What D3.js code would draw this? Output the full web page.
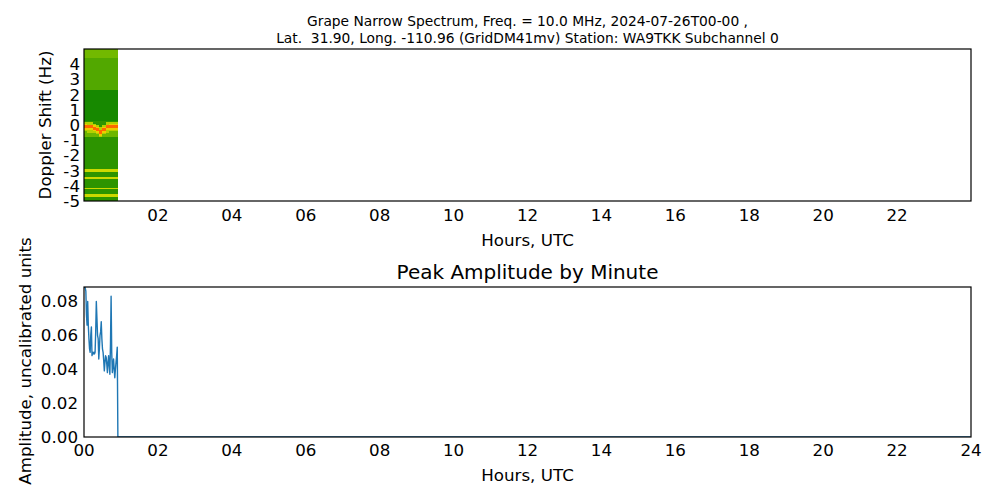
<!DOCTYPE html>
<html><head><meta charset="utf-8">
<script src="https://cdn.jsdelivr.net/npm/d3@7"></script>
<style>body{margin:0;background:#fff}svg{display:block;font-family:"DejaVu Sans",sans-serif}text{white-space:pre}</style>
</head><body><svg id="c" width="1000" height="500"></svg>
<script>
// ---------- data ----------
const titleLines = ["Grape Narrow Spectrum, Freq. = 10.0 MHz, 2024-07-26T00-00 ,",
                    "Lat.  31.90, Long. -110.96 (GridDM41mv) Station: WA9TKK Subchannel 0"];
const hourTicks = [2,4,6,8,10,12,14,16,18,20,22];
const hourTickLabels = ["02","04","06","08","10","12","14","16","18","20","22"];
const hourTicksBottom = [0,2,4,6,8,10,12,14,16,18,20,22,24];
const hourTickLabelsBottom = ["00","02","04","06","08","10","12","14","16","18","20","22","24"];
const dopplerTicks = [-5,-4,-3,-2,-1,0,1,2,3,4];
const ampTicks = [0,0.02,0.04,0.06,0.08];

// spectrogram: recorded minutes, background band levels, carrier trace, spur lines
const specMinutes = 55;
const bandLow   = [-5.0, -0.75, 0.3, 2.3, 4.4];
const bandHigh  = [-0.75, -0.3, 2.3, 4.4, 5.0];
const bandLevel = [0.30, 0.42, 0.26, 0.37, 0.43];
const carrierMinute = [0,5,10,15,20,25,30,35,40,45,50];
const carrierHz     = [-0.1,-0.15,-0.15,-0.2,-0.3,-0.45,-0.3,-0.15,-0.1,-0.1,-0.1];
const spurHz = [-3.0,-3.45,-4.15,-4.6];
const spurLevel = 0.58;

// peak amplitude by minute
const ampMinute = [0,1,2,3,4,5,6,7,8,9,10,11,12,13,14,15,16,17,18,19,20,21,22,23,24,25,26,27,28,29,30,31,32,33,34,35,36,37,38,39,40,41,42,43,44,45,46,47,48,49,50,51,52,53,54,55,1439];
const ampValue  = [0.088,0.089,0.088,0.086,0.072,0.066,0.080,0.066,0.058,0.052,0.050,0.060,0.065,0.048,0.050,0.049,0.050,0.049,0.050,0.062,0.080,0.070,0.060,0.058,0.046,0.052,0.060,0.062,0.068,0.058,0.052,0.050,0.045,0.039,0.044,0.048,0.047,0.043,0.038,0.044,0.048,0.042,0.037,0.055,0.083,0.050,0.038,0.042,0.046,0.040,0.035,0.040,0.044,0.048,0.053,0.000,0.000];

// ---------- drawing ----------
const svg = d3.select("#c");
const L = 84, R = 971;
const top1 = 49, bot1 = 201, top2 = 287, bot2 = 437;
const fs = 16.7;

const xTop = d3.scaleLinear().domain([0,24]).range([L,R]);
const yTop = d3.scaleLinear().domain([-5,5]).range([bot1,top1]);
const xMin = d3.scaleLinear().domain([0,1440]).range([L,R]);
const xBot = d3.scaleLinear().domain([0,24]).range([L,R]);
const yBot = d3.scaleLinear().domain([0,0.0885]).range([bot2,top2]);

const cmap = d3.scaleLinear()
  .domain([0,0.25,0.45,0.6,0.75,0.9,1])
  .range(["#005a00","#128600","#7dbf00","#d8dc00","#ffc000","#ff5a00","#ff1a00"])
  .clamp(true);

// titles
svg.append("g").selectAll("text").data(titleLines).join("text")
  .attr("x",(L+R)/2).attr("y",(d,i)=>26+i*17).attr("text-anchor","middle")
  .attr("font-size",13.8).text(d=>d);

// spectrogram cells
const df = 0.1;
const rows = d3.range(-5, 5 - 1e-9, df).map(v=>+v.toFixed(2));
const cells = [];
for (let m=0; m<specMinutes; m++){
  const ci = Math.min(carrierHz.length-1, Math.floor(m/5));
  const c = carrierHz[ci];
  rows.forEach(f=>{
    const fc = f + df/2;
    let lev = 0.3;
    for (let b=0;b<bandLow.length;b++) if (fc>=bandLow[b] && fc<bandHigh[b]) lev = bandLevel[b];
    spurHz.forEach(s=>{ if (Math.abs(fc-s) < df/2+1e-6) lev = Math.max(lev, spurLevel); });
    const d = Math.abs(fc-c);
    if (d < 0.1) lev = Math.max(lev,0.88);
    else if (d < 0.2) lev = Math.max(lev,0.68);
    else if (d < 0.32) lev = Math.max(lev,0.54);
    cells.push({m, f, lev});
  });
}
svg.append("g").selectAll("rect").data(cells).join("rect")
  .attr("x",d=>xMin(d.m)).attr("width",d=>xMin(d.m+1)-xMin(d.m)+0.3)
  .attr("y",d=>yTop(d.f+df)).attr("height",d=>yTop(d.f)-yTop(d.f+df)+0.3)
  .attr("fill",d=>cmap(d.lev)).attr("shape-rendering","crispEdges");

svg.append("rect").attr("x",L).attr("y",top1).attr("width",R-L).attr("height",bot1-top1)
  .attr("fill","none").attr("stroke","#000").attr("stroke-width",1.2);

// top axes labels
svg.append("g").selectAll("text").data(hourTicks).join("text")
  .attr("x",d=>xTop(d)).attr("y",bot1+20).attr("text-anchor","middle").attr("font-size",fs)
  .text((d,i)=>hourTickLabels[i]);
svg.append("g").selectAll("text").data(dopplerTicks).join("text")
  .attr("x",L-4).attr("y",d=>yTop(d)).attr("dy","0.36em").attr("text-anchor","end").attr("font-size",fs)
  .text(d=>d);
svg.append("text").attr("x",(L+R)/2).attr("y",246).attr("text-anchor","middle").attr("font-size",fs).text("Hours, UTC");
svg.append("text").attr("transform",`translate(51,${(top1+bot1)/2}) rotate(-90)`).attr("text-anchor","middle")
  .attr("font-size",fs).text("Doppler Shift (Hz)");

// bottom chart
svg.append("text").attr("x",(L+R)/2).attr("y",279).attr("text-anchor","middle").attr("font-size",20).text("Peak Amplitude by Minute");
svg.append("defs").append("clipPath").attr("id","clip2").append("rect")
  .attr("x",L).attr("y",top2).attr("width",R-L).attr("height",bot2-top2);
const line = d3.line().x((d,i)=>xMin(ampMinute[i])).y(d=>yBot(d));
svg.append("path").datum(ampValue).attr("d",line).attr("fill","none")
  .attr("stroke","#1f77b4").attr("stroke-width",1.4).attr("stroke-linejoin","round").attr("clip-path","url(#clip2)");
svg.append("rect").attr("x",L).attr("y",top2).attr("width",R-L).attr("height",bot2-top2)
  .attr("fill","none").attr("stroke","#000").attr("stroke-width",1.2);
svg.append("g").selectAll("text").data(hourTicksBottom).join("text")
  .attr("x",d=>xBot(d)).attr("y",bot2+19).attr("text-anchor","middle").attr("font-size",fs)
  .text((d,i)=>hourTickLabelsBottom[i]);
svg.append("g").selectAll("text").data(ampTicks).join("text")
  .attr("x",L-6).attr("y",d=>yBot(d)).attr("dy","0.36em").attr("text-anchor","end").attr("font-size",fs)
  .text(d=>d3.format(".2f")(d));
svg.append("text").attr("x",(L+R)/2).attr("y",481).attr("text-anchor","middle").attr("font-size",fs).text("Hours, UTC");
svg.append("text").attr("transform",`translate(31,${(top2+bot2)/2-1}) rotate(-90)`).attr("text-anchor","middle")
  .attr("font-size",fs).text("Amplitude, uncalibrated units");
</script></body></html>
